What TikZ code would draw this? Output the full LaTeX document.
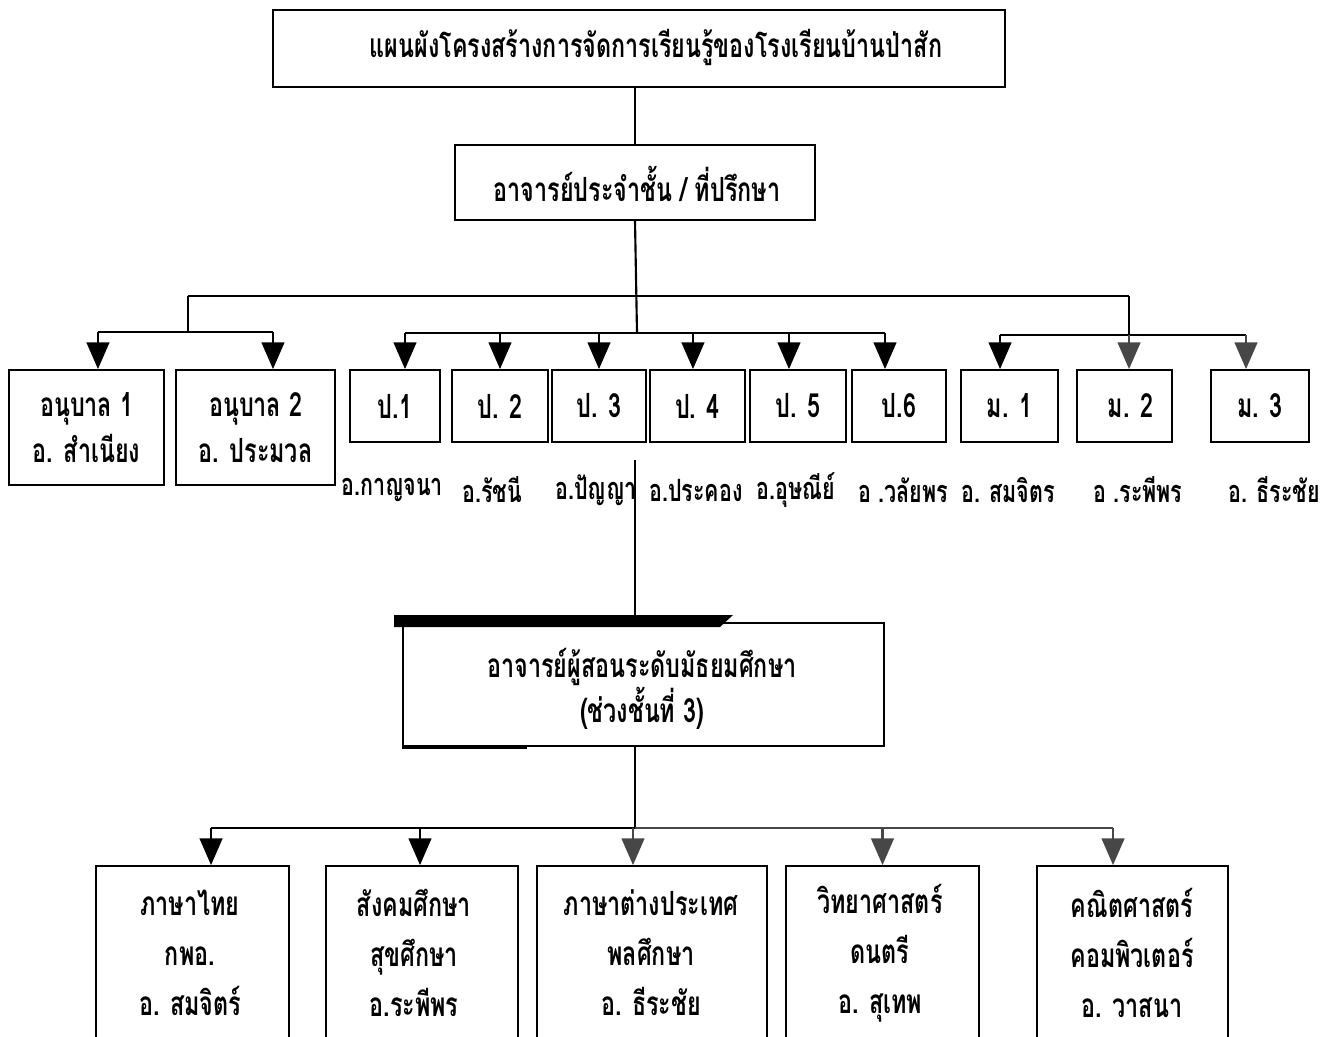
\documentclass[tikz,border=0pt]{standalone}
\usepackage{fontspec}
\newfontfamily\thai[Script=Thai,FakeStretch=0.7]{Loma}
\usetikzlibrary{arrows.meta,fit}
\colorlet{dgray}{black!72}
\begin{document}
\begin{tikzpicture}[x=0.75pt,y=-0.75pt,
  frame/.style={draw, line width=1.4pt, inner sep=0pt},
  txt/.style={font=\thai\bfseries\fontsize{25}{35}\selectfont, align=center, inner sep=0pt},
  txtm/.style={font=\thai\bfseries\fontsize{25}{34}\selectfont, align=center, inner sep=0pt},
  txtb/.style={font=\thai\bfseries\fontsize{25}{37.5}\selectfont, align=center, inner sep=0pt},
  lbl/.style={font=\thai\bfseries\fontsize{23}{26}\selectfont, inner sep=0pt},
  conn/.style={line width=1.6pt},
  arr/.style={conn, -{Triangle[width=17pt,length=20pt]}}]
\useasboundingbox (0,0) rectangle (1326,1036);
\clip (0,0) rectangle (1326,1036);

% top boxes
\node[frame, fit={(273,10) (1005,87)}] (title) {};
\node[txt] (titletxt) at (656,47) {แผนผังโครงสร้างการจัดการเรียนรู้ของโรงเรียนบ้านป่าสัก};
\node[frame, fit={(455,145) (815,220)}] (adv) {};
\node[txt] (advtxt) at (637,184) {อาจารย์ประจำชั้น / ที่ปรึกษา};

% level boxes
\node[frame, fit={(9,370) (164,485)}] (k1) {};
\node[txt] (k1t) at (k1.center) {อนุบาล 1\\อ. สำเนียง};
\node[frame, fit={(176,370) (335,485)}] (k2) {};
\node[txt] (k2t) at (k2.center) {อนุบาล 2\\อ. ประมวล};
\node[frame, fit={(350,370) (440,442)}] (p1) {};
\node[txt] (p1t) at (p1.center) {ป.1};
\node[frame, fit={(452,370) (548,442)}] (p2) {};
\node[txt] (p2t) at (p2.center) {ป. 2};
\node[frame, fit={(552,370) (646,442)}] (p3) {};
\node[txt] (p3t) at (p3.center) {ป. 3};
\node[frame, fit={(650,370) (745,442)}] (p4) {};
\node[txt] (p4t) at (p4.center) {ป. 4};
\node[frame, fit={(750,370) (846,442)}] (p5) {};
\node[txt] (p5t) at (p5.center) {ป. 5};
\node[frame, fit={(852,370) (946,442)}] (p6) {};
\node[txt] (p6t) at (p6.center) {ป.6};
\node[frame, fit={(961,370) (1058,442)}] (m1) {};
\node[txt] (m1t) at (m1.center) {ม. 1};
\node[frame, fit={(1077,370) (1172,442)}] (m2) {};
\node[txt] (m2t) at ([xshift=4.5pt]m2.center) {ม. 2};
\node[frame, fit={(1211,370) (1309,442)}] (m3) {};
\node[txt] (m3t) at (m3.center) {ม. 3};

% teacher labels
\node[lbl] (l1) at (392,490) {อ.กาญจนา};
\node[lbl] (l2) at (492,490) {อ.รัชนี};
\node[lbl] (l3) at (596,490) {อ.ปัญญา};
\node[lbl] (l4) at (696,490) {อ.ประคอง};
\node[lbl] (l5) at (796,490) {อ.อุษณีย์};
\node[lbl] (l6) at (903,490) {อ .วลัยพร};
\node[lbl] (l7) at (1008,490) {อ. สมจิตร};
\node[lbl] (l8) at (1138,490) {อ .ระพีพร};
\node[lbl] (l9) at (1274,490) {อ. ธีระชัย};

% middle box
\fill (394,615) -- (733,615) -- (720,627) -- (394,627) -- cycle;
\node[frame, fit={(403,623) (884,746)}] (sec) {};
\draw[line width=2.6pt] (sec.south west) -- ++(125,0);
\node[txtm] (sect) at (642,689) {อาจารย์ผู้สอนระดับมัธยมศึกษา\\(ช่วงชั้นที่ 3)};

% subject boxes (run past the bottom edge)
\node[frame, fit={(96,866) (289,1080)}] (s1) {};
\node[txtb] (s1t) at (190,953) {ภาษาไทย\\กพอ.\\อ. สมจิตร์};
\node[frame, fit={(326,866) (518,1080)}] (s2) {};
\node[txtb] (s2t) at (414,953) {สังคมศึกษา\\สุขศึกษา\\อ.ระพีพร};
\node[frame, fit={(537,866) (767,1080)}] (s3) {};
\node[txtb] (s3t) at (651,953) {ภาษาต่างประเทศ\\พลศึกษา\\อ. ธีระชัย};
\node[frame, fit={(786,866) (979,1080)}] (s4) {};
\node[txtb] (s4t) at (880,953) {วิทยาศาสตร์\\ดนตรี\\อ. สุเทพ};
\node[frame, fit={(1037,866) (1228,1080)}] (s5) {};
\node[txtb] (s5t) at (1132,953) {คณิตศาสตร์\\คอมพิวเตอร์\\อ. วาสนา};

% connectors, upper part
\coordinate (busL) at (188,296);
\coordinate (busR) at (1129,296);
\coordinate (kbus) at (188,332);
\coordinate (pbus) at (637,333);
\coordinate (mbus) at (1129,335);
\draw[conn] (title.south -| adv.north) -- (adv.north);
\draw[conn] (adv.south) -- (pbus);
\draw[conn] (busL) -- (busR);
\draw[conn] (busL) -- (kbus);
\draw[conn] (busR) -- (mbus);
\coordinate (ak1) at ([xshift=8.6pt]k1.north);
\coordinate (ak2) at ([xshift=13.1pt]k2.north);
\coordinate (ap1) at ([xshift=7.5pt]p1.north);
\coordinate (ap2) at (p2.north);
\coordinate (ap3) at (p3.north);
\coordinate (ap4) at ([xshift=-3.4pt]p4.north);
\coordinate (ap5) at ([xshift=-6.75pt]p5.north);
\coordinate (ap6) at ([xshift=-10.5pt]p6.north);
\coordinate (am1) at ([xshift=-7.1pt]m1.north);
\coordinate (am2) at ([xshift=3.4pt]m2.north);
\coordinate (am3) at ([xshift=-10.5pt]m3.north);
\draw[conn] (ak1 |- kbus) -- (ak2 |- kbus);
\draw[conn] (ap1 |- pbus) -- (ap6 |- pbus);
\draw[conn] (am1 |- mbus) -- (am3 |- mbus);
\foreach \a/\b in {ak1/kbus, ak2/kbus, ap1/pbus, ap2/pbus, ap3/pbus, ap4/pbus, ap5/pbus, ap6/pbus, am1/mbus}
  \draw[arr] (\a |- \b) -- (\a);
\foreach \a/\b in {am2/mbus, am3/mbus}
  \draw[arr, dgray] (\a |- \b) -- (\a);

% connectors, lower part
\coordinate (vtop) at (635,460);
\draw[conn] (vtop) -- (vtop |- sec.north);
\coordinate (sbus) at (635,828);
\draw[conn] (sec.south -| sbus) -- (sbus);
\coordinate (as1) at ([xshift=13.9pt]s1.north);
\coordinate (as2) at ([xshift=-1.5pt]s2.north);
\coordinate (as3) at ([xshift=-14.25pt]s3.north);
\coordinate (as4) at (s4.north);
\coordinate (as5) at ([xshift=-14.6pt]s5.north);
\draw[conn] (as1 |- sbus) -- (sbus);
\draw[conn, dgray] (sbus) -- (as5 |- sbus);
\foreach \a in {as1, as2}
  \draw[arr] (\a |- sbus) -- (\a);
\foreach \a in {as3, as4, as5}
  \draw[arr, dgray] (\a |- sbus) -- (\a);
\end{tikzpicture}
\end{document}
